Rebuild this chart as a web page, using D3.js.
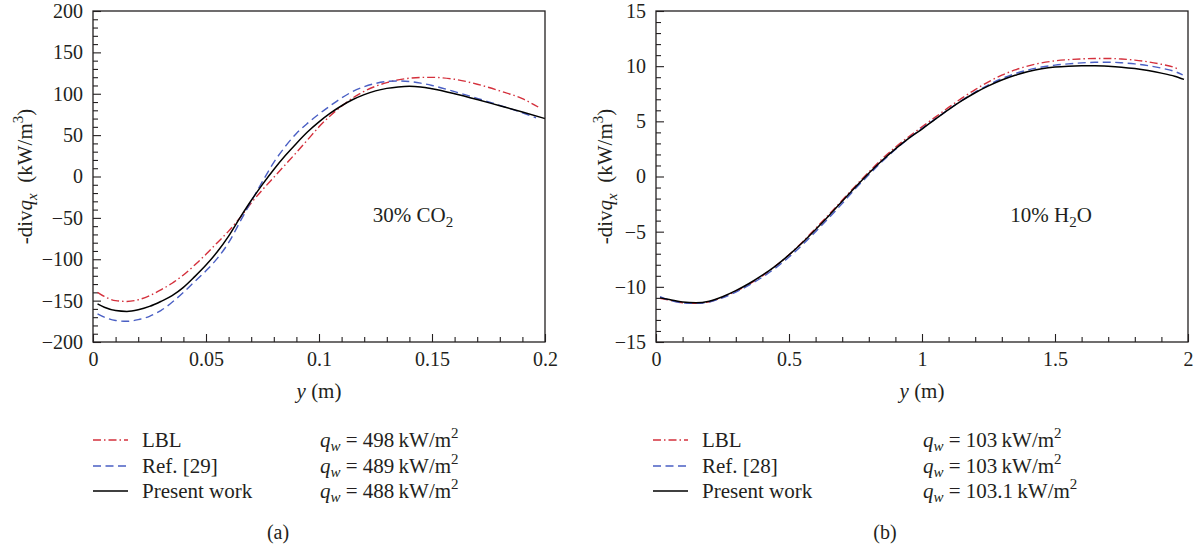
<!DOCTYPE html>
<html>
<head>
<meta charset="utf-8">
<script src="https://cdn.jsdelivr.net/npm/d3@7"></script>
<style>
  body { margin: 0; background: #fff; }
  svg text { font-family: "Liberation Serif", "Times New Roman", serif; fill: #231f20; }
</style>
</head>
<body>
<svg id="chart" width="1202" height="550"></svg>
<script>
// ---------- Panel (a): 30% CO2, wall distance 0–0.2 m ----------
const co2X = [0.002, 0.005, 0.01, 0.015, 0.02, 0.025, 0.03, 0.035, 0.04, 0.045, 0.05,
  0.055, 0.06, 0.065, 0.07, 0.075, 0.08, 0.085, 0.09, 0.095, 0.1, 0.105, 0.11, 0.115,
  0.12, 0.125, 0.13, 0.135, 0.14, 0.145, 0.15, 0.16, 0.17, 0.18, 0.19];
// last abscissa of each curve: LBL, Ref. [29], Present work
const co2LastX = [0.197, 0.196, 0.2];
const co2LBL = [-140, -145, -150, -151, -149, -144, -137, -129, -119, -107, -94,
  -80, -66, -50, -32, -16, -1, 14, 29, 44.5, 60, 73.5, 85, 95,
  103, 109, 113.5, 116.8, 118.8, 119.7, 119.8, 117.5, 111.5, 103.5, 94, 84];
const co2Ref = [-166, -170, -174, -175, -173, -169, -162, -152, -140, -127, -114,
  -99, -80, -55, -30, -6, 17, 36, 52, 64.5, 75.5, 85.5, 95, 102.8,
  108.5, 112.5, 114.8, 115.5, 114.8, 112.8, 110, 102.5, 94.5, 86, 77, 71];
const co2Present = [-154, -158, -162, -163, -161, -157, -151, -144, -134, -121, -107,
  -91, -72, -50, -29, -9.5, 8.5, 25, 40, 54, 66, 76.5, 85.5, 93,
  99, 103.5, 106.5, 108.3, 109.1, 108.2, 106, 100, 93, 85.5, 78, 70];
const co2YTicks = [-200, -150, -100, -50, 0, 50, 100, 150, 200];
const co2XTicks = [0, 0.05, 0.1, 0.15, 0.2];
const co2Qw = ["498", "489", "488"];
const co2Names = ["LBL", "Ref. [29]", "Present work"];

// ---------- Panel (b): 10% H2O, wall distance 0–2 m ----------
const h2oX = [0.015, 0.05, 0.1, 0.15, 0.2, 0.25, 0.3, 0.35, 0.4, 0.45, 0.5, 0.55, 0.6,
  0.65, 0.7, 0.75, 0.8, 0.85, 0.9, 0.95, 1.0, 1.05, 1.1, 1.15, 1.2, 1.25, 1.3, 1.35,
  1.4, 1.45, 1.5, 1.55, 1.6, 1.65, 1.7, 1.75, 1.8, 1.85, 1.9, 1.95];
const h2oLastX = [1.965, 1.98, 1.985];
const h2oLBL = [-11.05, -11.2, -11.45, -11.5, -11.35, -10.95, -10.4, -9.75, -9.0, -8.1,
  -7.1, -5.95, -4.7, -3.45, -2.15, -0.85, 0.4, 1.6, 2.65, 3.6, 4.5, 5.38, 6.26, 7.1,
  7.88, 8.58, 9.18, 9.66, 10.03, 10.3, 10.48, 10.59, 10.66, 10.7, 10.7, 10.65, 10.55,
  10.39, 10.17, 9.87, 9.7];
const h2oRef = [-10.9, -11.2, -11.45, -11.5, -11.38, -11.0, -10.48, -9.85, -9.12, -8.28,
  -7.3, -6.2, -5.0, -3.75, -2.45, -1.1, 0.15, 1.35, 2.45, 3.45, 4.35, 5.22, 6.08, 6.9,
  7.65, 8.31, 8.87, 9.32, 9.67, 9.92, 10.09, 10.21, 10.3, 10.35, 10.36, 10.31, 10.21,
  10.05, 9.82, 9.52, 9.2];
const h2oPresent = [-11.0, -11.15, -11.38, -11.45, -11.3, -10.9, -10.35, -9.7, -8.95, -8.1,
  -7.1, -6.0, -4.8, -3.55, -2.25, -0.95, 0.3, 1.45, 2.5, 3.45, 4.3, 5.2, 6.07, 6.87,
  7.59, 8.21, 8.74, 9.17, 9.51, 9.76, 9.92, 10.0, 10.03, 10.03, 9.99, 9.91, 9.78,
  9.6, 9.37, 9.09, 8.8];
const h2oYTicks = [-15, -10, -5, 0, 5, 10, 15];
const h2oXTicks = [0, 0.5, 1, 1.5, 2];
const h2oQw = ["103", "103", "103.1"];
const h2oNames = ["LBL", "Ref. [28]", "Present work"];

// ---------- styling ----------
const seriesStyle = [
  { color: "#d4303c", dash: "8,3,1.5,3", width: 1.4 },
  { color: "#4a5fc4", dash: "8,4.5", width: 1.4 },
  { color: "#000000", dash: null, width: 1.5 }
];
const TOP = 11, BOTTOM = 342;

const svg = d3.select("#chart");

// append a run of tspans (italic / resized / shifted pieces) to a text element
function addRich(textSel, parts) {
  parts.forEach(p => {
    const t = textSel.append("tspan").text(p.t);
    if (p.i) t.attr("font-style", "italic");
    if (p.s) t.attr("font-size", p.s);
    if (p.dy) t.attr("dy", p.dy);
  });
}

function drawPanel(cfg) {
  const g = svg.append("g");
  const x = d3.scaleLinear().domain(cfg.xDomain).range([cfg.left, cfg.right]);
  const y = d3.scaleLinear().domain(cfg.yDomain).range([BOTTOM, TOP]);

  const fmt = d3.format("~g");

  // minor tick positions (majors excluded)
  const yMinor = d3.range(cfg.yDomain[0], cfg.yDomain[1] + 1e-9, cfg.yMinorStep)
    .filter(v => !cfg.yTicks.some(t => Math.abs(t - v) < 1e-9));
  const xMinor = d3.range(0, cfg.xDomain[1] + 1e-9, cfg.xMinorStep)
    .map(v => +v.toFixed(6))
    .filter(v => !cfg.xTicks.some(t => Math.abs(t - v) < 1e-9));

  const styleAxis = sel => {
    sel.select(".domain").remove();
    sel.selectAll("line").attr("stroke", "#231f20").attr("stroke-width", 1.1);
    sel.selectAll("text").attr("font-size", 20).attr("fill", "#231f20");
    sel.attr("font-family", null).attr("font-size", null);
  };

  // ticks point inward
  g.append("g").attr("transform", `translate(${cfg.left},0)`)
    .call(d3.axisLeft(y).tickValues(yMinor).tickSize(-5).tickFormat(""))
    .call(styleAxis);
  g.append("g").attr("transform", `translate(${cfg.left},0)`)
    .call(d3.axisLeft(y).tickValues(cfg.yTicks).tickSize(-8).tickPadding(10).tickFormat(fmt))
    .call(styleAxis);
  g.append("g").attr("transform", `translate(0,${BOTTOM})`)
    .call(d3.axisBottom(x).tickValues(xMinor).tickSize(-5).tickFormat(""))
    .call(styleAxis);
  g.append("g").attr("transform", `translate(0,${BOTTOM})`)
    .call(d3.axisBottom(x).tickValues(cfg.xTicks).tickSize(-8).tickPadding(10).tickFormat(fmt))
    .call(styleAxis);

  // curves
  const line = d3.line().x(d => x(d[0])).y(d => y(d[1])).curve(d3.curveMonotoneX);
  cfg.series.forEach((vals, i) => {
    const pts = cfg.xs.map((xv, k) => [xv, vals[k]]);
    pts.push([cfg.lastX[i], vals[vals.length - 1]]);
    const st = seriesStyle[i];
    g.append("path").datum(pts)
      .attr("d", line)
      .attr("fill", "none")
      .attr("stroke", st.color)
      .attr("stroke-width", st.width)
      .attr("stroke-dasharray", st.dash);
  });

  // frame
  g.append("rect")
    .attr("x", cfg.left).attr("y", TOP)
    .attr("width", cfg.right - cfg.left).attr("height", BOTTOM - TOP)
    .attr("fill", "none").attr("stroke", "#231f20").attr("stroke-width", 1.3);

  // y-axis title
  const yt = g.append("text")
    .attr("transform", `translate(${cfg.yTitleX},${(TOP + BOTTOM) / 2}) rotate(-90)`)
    .attr("text-anchor", "middle")
    .attr("font-size", 21)
    .attr("dy", "0.35em");
  addRich(yt, [
    { t: "-div" },
    { t: "q", i: true },
    { t: "x", i: true, s: 15, dy: 5 },
    { t: "\u2002(kW/m", dy: -5 },
    { t: "3", s: 15, dy: -9 },
    { t: ")", dy: 9 }
  ]);

  // x-axis title
  const xt = g.append("text")
    .attr("x", (cfg.left + cfg.right) / 2).attr("y", 398)
    .attr("text-anchor", "middle").attr("font-size", 21);
  addRich(xt, [{ t: "y", i: true }, { t: " (m)" }]);

  // gas annotation
  const an = g.append("text")
    .attr("x", cfg.noteX).attr("y", 222)
    .attr("text-anchor", "middle").attr("font-size", 21);
  addRich(an, cfg.note);

  // legend
  const rows = [440, 466, 491];
  rows.forEach((ry, i) => {
    const st = seriesStyle[i];
    g.append("line")
      .attr("x1", cfg.legX).attr("x2", cfg.legX + 35)
      .attr("y1", ry).attr("y2", ry)
      .attr("stroke", st.color).attr("stroke-width", st.width)
      .attr("stroke-dasharray", st.dash);
    g.append("text")
      .attr("x", cfg.legX + 49).attr("y", ry + 7)
      .attr("font-size", 21).text(cfg.names[i]);
    const q = g.append("text")
      .attr("x", cfg.qwX).attr("y", ry + 7).attr("font-size", 21);
    addRich(q, [
      { t: "q", i: true },
      { t: "w", i: true, s: 15, dy: 4 },
      { t: " = " + cfg.qw[i] + "\u2009kW/m", dy: -4 },
      { t: "2", s: 15, dy: -9 }
    ]);
  });

  // panel caption
  g.append("text")
    .attr("x", cfg.capX).attr("y", 539)
    .attr("text-anchor", "middle").attr("font-size", 20)
    .text(cfg.caption);
}

drawPanel({
  left: 93, right: 545,
  xDomain: [0, 0.2], yDomain: [-200, 200],
  xTicks: co2XTicks, yTicks: co2YTicks, xMinorStep: 0.01, yMinorStep: 10,
  xs: co2X, lastX: co2LastX, series: [co2LBL, co2Ref, co2Present],
  yTitleX: 25,
  noteX: 413, note: [{ t: "30% CO" }, { t: "2", s: 15, dy: 5 }],
  legX: 93, qwX: 320, names: co2Names, qw: co2Qw,
  capX: 278, caption: "(a)"
});

drawPanel({
  left: 656, right: 1188,
  xDomain: [0, 2], yDomain: [-15, 15],
  xTicks: h2oXTicks, yTicks: h2oYTicks, xMinorStep: 0.1, yMinorStep: 1,
  xs: h2oX, lastX: h2oLastX, series: [h2oLBL, h2oRef, h2oPresent],
  yTitleX: 605,
  noteX: 1051, note: [{ t: "10% H" }, { t: "2", s: 15, dy: 5 }, { t: "O", dy: -5 }],
  legX: 653, qwX: 923, names: h2oNames, qw: h2oQw,
  capX: 885, caption: "(b)"
});
</script>
</body>
</html>
